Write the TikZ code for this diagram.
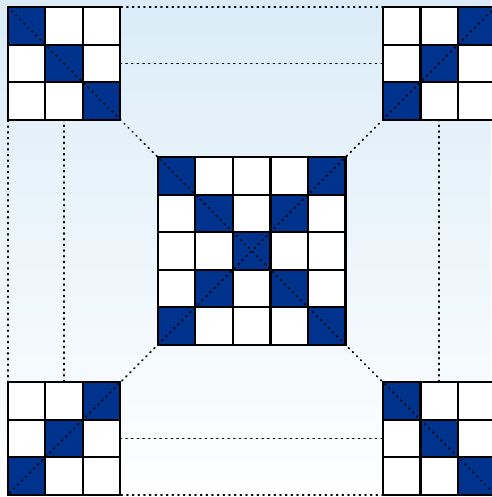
\documentclass[tikz,border=0pt]{standalone}
\usetikzlibrary{positioning}
\definecolor{quiltblue}{RGB}{0,51,141}
\definecolor{skytop}{RGB}{219,236,248}
\tikzset{
  cell/.style = {draw = black, fill = white, line width = 1.6pt},
  frame/.style = {draw = black, line width = 1.6pt, inner sep = 0pt, outer sep = 0pt},
  guide/.style = {dash pattern = on 0.8pt off 3.5pt, line width = 1.3pt, line cap = round}
}
% block of n x n cells, top left corner at (#2,#3), blue cells listed as i/j
\newcommand{\patch}[5]{
  \foreach \i in {1,...,#4} \foreach \j in {1,...,#4} \draw[cell] (#2+\i-1,#3+\j-1) rectangle +(1,1);
  \foreach \i/\j in {#5} \draw[cell, fill = quiltblue] (#2+\i-1,#3+\j-1) rectangle +(1,1);
  \node[frame, minimum size = #4cm, anchor = north west] (#1) at (#2,#3) {};
}

\begin{document}
\begin{tikzpicture}[x = 1cm, y = -1cm]
\useasboundingbox (-0.21,-0.19) rectangle (12.88,13.06);
\shade[top color = skytop, bottom color = white] (-0.21,-0.19) rectangle (12.88,13.06);
\patch{tl}{0}{0}{3}{1/1,2/2,3/3}
\patch{tr}{10}{0}{3}{3/1,2/2,1/3}
\patch{bl}{0}{10}{3}{3/1,2/2,1/3}
\patch{br}{10}{10}{3}{1/1,2/2,3/3}
\patch{mid}{4}{4}{5}{1/1,5/1,2/2,4/2,3/3,2/4,4/4,1/5,5/5}
% guide lines
\draw[guide] (tl.north west) -- (tr.north east);
\draw[guide] (tl.east) -- (tr.west);
\draw[guide] (bl.east) -- (br.west);
\draw[guide] (bl.south west) -- (br.south east);
\draw[guide] (tl.north west) -- (bl.south west);
\draw[guide] (tl.south) -- (bl.north);
\draw[guide] (tr.south) -- (br.north);
\draw[guide] (tr.north east) -- (br.south east);
\draw[guide] (tl.north west) -- (br.south east);
\draw[guide] (tr.north east) -- (bl.south west);
\end{tikzpicture}
\end{document}
